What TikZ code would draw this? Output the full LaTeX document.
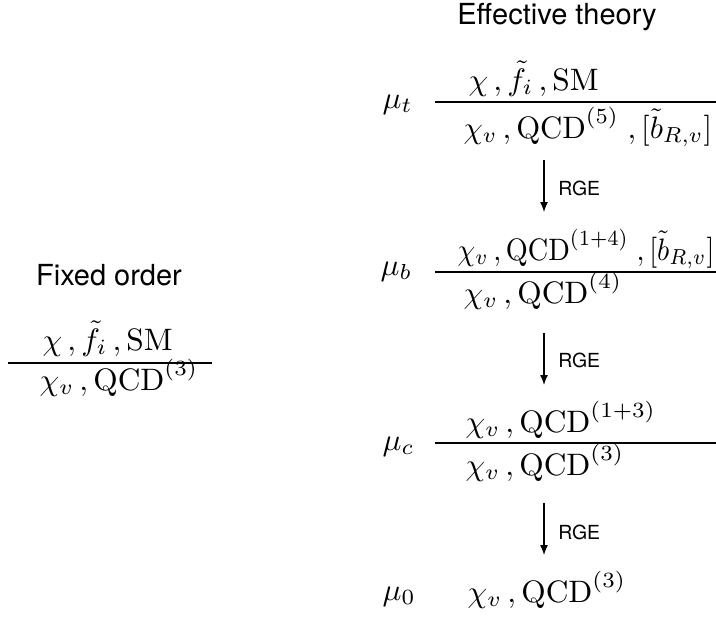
\documentclass[tikz,border=0pt]{standalone}
\usepackage{fontspec}
\setsansfont{TeX Gyre Heros}
\usetikzlibrary{arrows.meta}
\begin{document}
\begin{tikzpicture}[x=0.5pt,y=-0.5pt,
  mth/.style={inner sep=0pt,anchor=base west,xscale=1.57,yscale=1.55,font=\fontsize{10}{12}\selectfont},
  ttl/.style={inner sep=0pt,anchor=base,font=\sffamily\fontsize{14.5}{17}\selectfont},
  rge/.style={inner sep=0pt,anchor=west,font=\sffamily\fontsize{9.7}{11}\selectfont},
  bar/.style={line width=1pt},
  flow/.style={line width=0.65pt,-{Latex[length=5pt,width=4pt]}}]
\useasboundingbox (0,0) rectangle (716,621);
% titles
\node[ttl] (eff) at (557,25) {Effective theory};
\node[ttl] (fix) at (109,285) {Fixed order};
% left fixed order
\node[mth] (fn) at (42,350) {$\chi\,,\tilde f_i\,,\mathrm{SM}$};
\coordinate (fl1) at (8,363);
\coordinate (fl2) at (212,363);
\draw[bar] (fl1) -- (fl2);
\node[mth] (fd) at (39,390) {$\chi_v\,,\mathrm{QCD}^{(3)}$};
% block t
\node[mth] (mt) at (382,108) {$\mu_t$};
\node[mth] (tn) at (468,90) {$\chi\,,\tilde f_i\,,\mathrm{SM}$};
\coordinate (tl1) at (435,102);
\coordinate (tl2) at (716,102);
\draw[bar] (tl1) -- (tl2);
\node[mth,xscale=0.98] (td) at (463,138) {$\chi_v\,,\mathrm{QCD}^{(5)}\;,[\tilde b_{R,v}]$};
\coordinate (a1s) at (544,160);
\coordinate (a1e) at (544,212);
\draw[flow] (a1s) -- (a1e);
\node[rge] (r1) at (558,188) {RGE};
% block b
\node[mth] (mb) at (380,275) {$\mu_b$};
\node[mth,xscale=0.9] (bn) at (457,260) {$\chi_v\,,\mathrm{QCD}^{(1+4)}\;,[\tilde b_{R,v}]$};
\coordinate (bl1) at (435,272);
\coordinate (bl2) at (716,272);
\draw[bar] (bl1) -- (bl2);
\node[mth] (bd) at (463,303) {$\chi_v\,,\mathrm{QCD}^{(4)}$};
\coordinate (a2s) at (544,333);
\coordinate (a2e) at (544,385);
\draw[flow] (a2s) -- (a2e);
\node[rge] (r2) at (558,360) {RGE};
% block c
\node[mth] (mc) at (382,450) {$\mu_c$};
\node[mth] (cn) at (465,432) {$\chi_v\,,\mathrm{QCD}^{(1+3)}$};
\coordinate (cl1) at (435,443);
\coordinate (cl2) at (716,443);
\draw[bar] (cl1) -- (cl2);
\node[mth] (cd) at (465,475) {$\chi_v\,,\mathrm{QCD}^{(3)}$};
\coordinate (a3s) at (544,503);
\coordinate (a3e) at (544,555);
\draw[flow] (a3s) -- (a3e);
\node[rge] (r3) at (558,532) {RGE};
% mu_0
\node[mth] (m0) at (382,600) {$\mu_0$};
\node[mth] (zd) at (467,602) {$\chi_v\,,\mathrm{QCD}^{(3)}$};
\end{tikzpicture}
\end{document}
